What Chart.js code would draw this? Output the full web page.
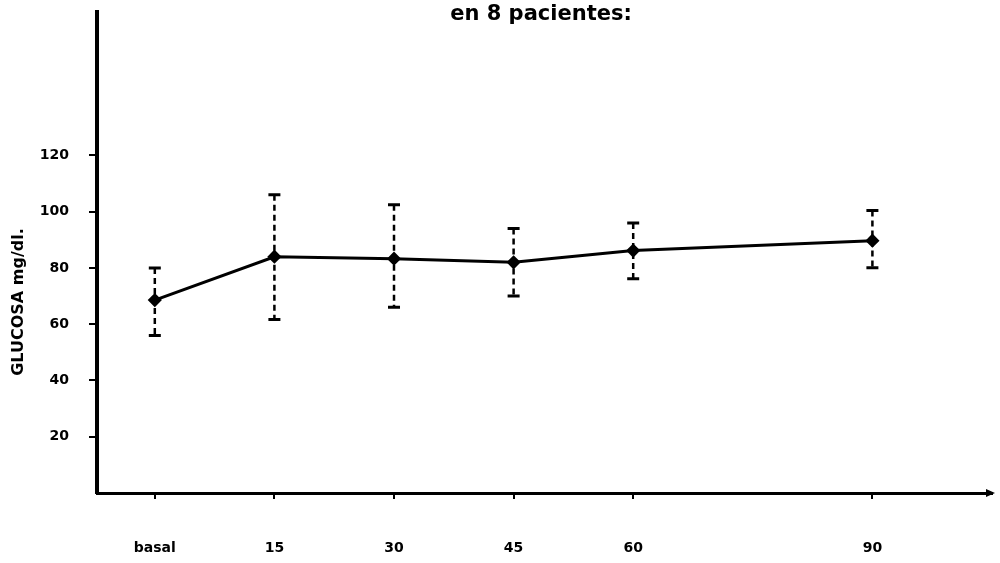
<!DOCTYPE html>
<html>
<head>
<meta charset="utf-8">
<script src="https://cdn.jsdelivr.net/npm/chart.js@4"></script>
<style>
    html, body { margin: 0; padding: 0; background: #fff; }
    #wrap { width: 1000px; height: 563px; }
</style>
</head>
<body>
<div id="wrap"><canvas id="glucosa-chart" width="1000" height="563"></canvas></div>
<script>
// datos
const categories = ['basal', '15', '30', '45', '60', '90'];
const minutes = [0, 15, 30, 45, 60, 90];
const glucoseMean = [68.6, 84, 83.3, 82, 86.2, 89.7];
const errorUpper = [80, 106, 102.5, 94, 96, 100.4];
const errorLower = [56, 61.7, 66, 70, 76.2, 80.1];
const yTicks = [20, 40, 60, 80, 100, 120];

const titleText = 'en 8 pacientes:';
const yTitleText = 'GLUCOSA mg/dl.';

/**
 * barras de error discontinuas con remates en T
 */
const errorBarsPlugin = {
    id: 'errorBars',
    beforeDatasetsDraw(chart) {
        const ctx = chart.ctx;
        const x = chart.scales.x;
        const y = chart.scales.y;
        ctx.save();
        ctx.strokeStyle = '#000';
        minutes.forEach((m, i) => {
            const px = x.getPixelForValue(m);
            const top = y.getPixelForValue(errorUpper[i]);
            const bottom = y.getPixelForValue(errorLower[i]);
            ctx.lineWidth = 2.5;
            ctx.setLineDash([6, 4]);
            ctx.beginPath();
            ctx.moveTo(px, top);
            ctx.lineTo(px, bottom);
            ctx.stroke();
            ctx.setLineDash([]);
            ctx.lineWidth = 3;
            ctx.beginPath();
            ctx.moveTo(px - 6, top);
            ctx.lineTo(px + 6, top);
            ctx.moveTo(px - 6, bottom);
            ctx.lineTo(px + 6, bottom);
            ctx.stroke();
        });
        ctx.restore();
    }
};

/**
 * título, etiqueta del eje y flecha
 */
const textPlugin = {
    id: 'extraText',
    afterDraw(chart) {
        const ctx = chart.ctx;
        const area = chart.chartArea;
        ctx.save();
        ctx.fillStyle = '#000';
        ctx.font = 'bold 21px "DejaVu Sans"';
        ctx.textAlign = 'center';
        ctx.textBaseline = 'alphabetic';
        ctx.fillText(titleText, 541, 20);

        ctx.translate(19, 302);
        ctx.rotate(-Math.PI / 2);
        ctx.font = 'bold 16px "DejaVu Sans"';
        ctx.textBaseline = 'middle';
        ctx.fillText(yTitleText, 0, 0);
        ctx.restore();

        // flecha del eje x
        ctx.save();
        ctx.fillStyle = '#000';
        ctx.beginPath();
        ctx.moveTo(area.right + 3, area.bottom);
        ctx.lineTo(area.right - 6, area.bottom - 4);
        ctx.lineTo(area.right - 6, area.bottom + 4);
        ctx.closePath();
        ctx.fill();
        ctx.restore();
    }
};

const tickFont = { family: 'DejaVu Sans', weight: 'bold', size: 14 };

new Chart(document.getElementById('glucosa-chart'), {
    type: 'line',
    data: {
        datasets: [{
            data: minutes.map((m, i) => ({ x: m, y: glucoseMean[i] })),
            borderColor: '#000',
            backgroundColor: '#000',
            borderWidth: 3,
            pointStyle: 'rectRot',
            pointRadius: 5,
            tension: 0
        }]
    },
    options: {
        responsive: false,
        animation: false,
        layout: { padding: { top: 12, right: 5, left: 0, bottom: 0 } },
        plugins: {
            legend: { display: false },
            tooltip: { enabled: false }
        },
        scales: {
            x: {
                type: 'linear',
                min: -7.25,
                max: 105,
                afterFit: (scale) => {
                    scale.height = 70;
                    scale.paddingLeft = 0;
                    scale.paddingRight = 0;
                },
                afterBuildTicks: (scale) => { scale.ticks = minutes.map(v => ({ value: v })); },
                border: { color: '#000', width: 3 },
                grid: { drawOnChartArea: false, drawTicks: true, tickLength: 6, color: '#000', lineWidth: 2 },
                ticks: {
                    color: '#000',
                    font: tickFont,
                    padding: 41,
                    maxRotation: 0,
                    callback: (value) => categories[minutes.indexOf(value)]
                }
            },
            y: {
                min: 0,
                max: 171,
                afterFit: (scale) => {
                    scale.width = 97;
                    scale.paddingTop = 0;
                    scale.paddingBottom = 0;
                },
                afterBuildTicks: (scale) => { scale.ticks = yTicks.map(v => ({ value: v })); },
                border: { color: '#000', width: 4 },
                grid: { drawOnChartArea: false, drawTicks: true, tickLength: 8, color: '#000', lineWidth: 2 },
                ticks: {
                    color: '#000',
                    font: tickFont,
                    padding: 20
                }
            }
        }
    },
    plugins: [errorBarsPlugin, textPlugin]
});
</script>
</body>
</html>
